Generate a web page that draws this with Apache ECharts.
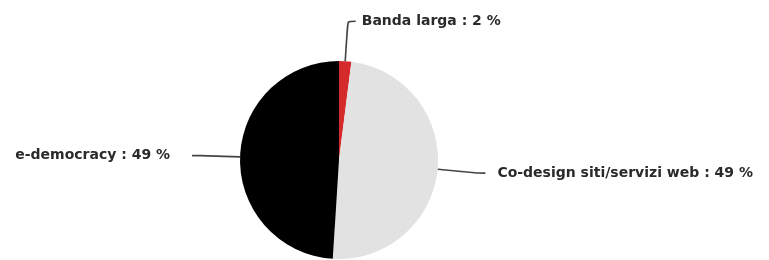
<!DOCTYPE html>
<html>
<head>
<meta charset="utf-8">
<script src="https://cdn.jsdelivr.net/npm/echarts@6/dist/echarts.min.js"></script>
<style>
  html, body { margin: 0; padding: 0; background: #fff; }
  #main { width: 769px; height: 260px; }
</style>
</head>
<body>
<div id="main"></div>
<script>
  var categories = ['Banda larga', 'Co-design siti/servizi web', 'e-democracy'];
  var values = [2, 49, 49];
  var colors = ['#d42a2c', '#e2e2e2', '#000000'];
  var labelGaps = [6, 12, 22];

  var data = [];
  for (var i = 0; i < categories.length; i++) {
    data.push({
      name: categories[i],
      value: values[i],
      itemStyle: { color: colors[i] },
      label: { distanceToLabelLine: labelGaps[i] }
    });
  }

  var myChart = echarts.init(document.getElementById('main'));
  myChart.setOption({
    animation: false,
    series: [{
      type: 'pie',
      center: [339, 160],
      radius: 99,
      startAngle: 90,
      clockwise: true,
      avoidLabelOverlap: false,
      itemStyle: { borderWidth: 0 },
      label: {
        show: true,
        position: 'outside',
        formatter: '{b} : {d} %',
        fontFamily: 'DejaVu Sans',
        fontWeight: 'bold',
        fontSize: 14,
        color: '#2a2a2a'
      },
      labelLine: {
        show: true,
        length: 40,
        length2: 8,
        smooth: 0.2,
        lineStyle: { color: '#444', width: 1.6 }
      },
      emphasis: { disabled: true },
      data: data
    }]
  });
</script>
</body>
</html>
